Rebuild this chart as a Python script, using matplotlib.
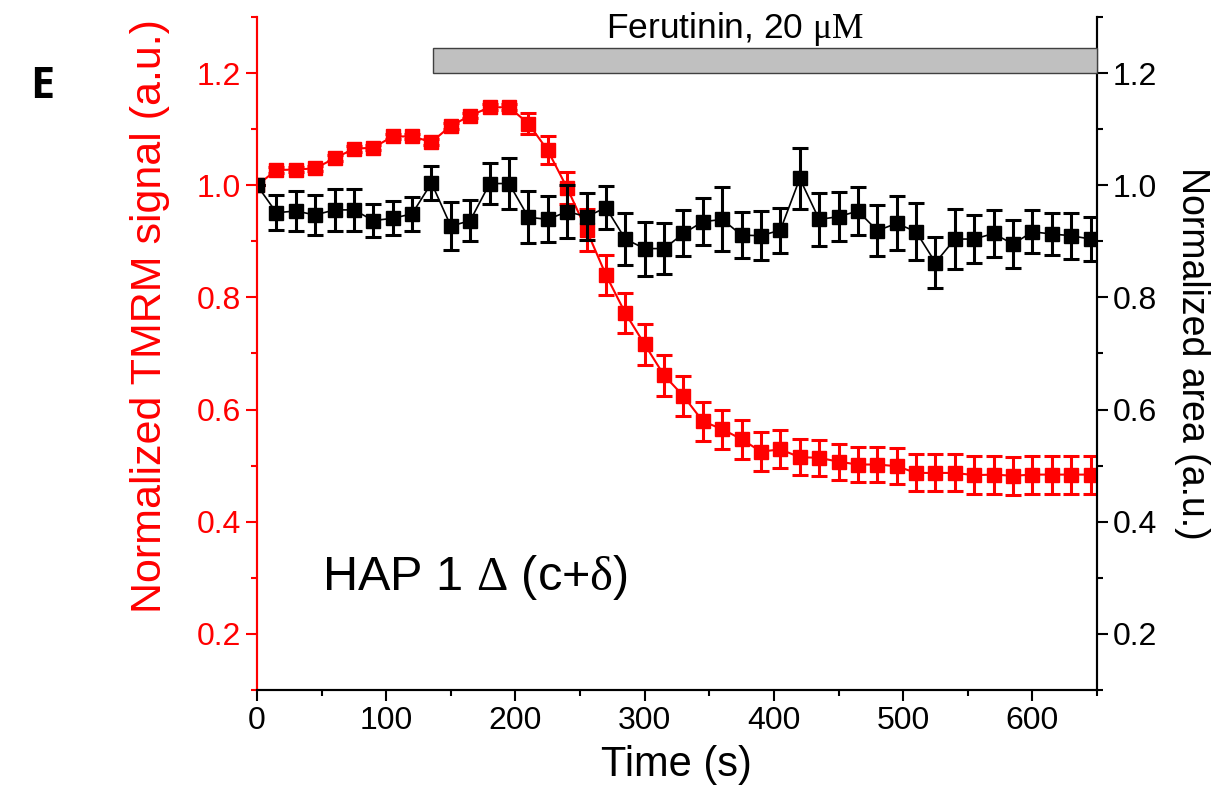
import matplotlib
matplotlib.use("Agg")
import matplotlib.pyplot as plt
from matplotlib.ticker import MultipleLocator

plt.rcParams['font.family'] = ['Liberation Sans', 'DejaVu Sans']
plt.rcParams['mathtext.fontset'] = 'custom'
plt.rcParams['mathtext.rm'] = 'Liberation Serif'
plt.rcParams['mathtext.it'] = 'Liberation Serif'

# time points (s)
time_s = [0, 15, 30, 45, 60, 75, 90, 105, 120, 135, 150, 165, 180, 195, 210,
          225, 240, 255, 270, 285, 300, 315, 330, 345, 360, 375, 390, 405, 420,
          435, 450, 465, 480, 495, 510, 525, 540, 555, 570, 585, 600, 615, 630, 645]

# normalized TMRM signal (left axis, red)
tmrm = [1.000, 1.027, 1.028, 1.030, 1.048, 1.065, 1.067, 1.087, 1.087, 1.077,
        1.106, 1.124, 1.139, 1.139, 1.110, 1.062, 0.995, 0.920, 0.840, 0.772,
        0.716, 0.661, 0.624, 0.579, 0.565, 0.547, 0.525, 0.529, 0.515, 0.514,
        0.507, 0.502, 0.502, 0.499, 0.487, 0.487, 0.487, 0.483, 0.484, 0.482,
        0.484, 0.484, 0.484, 0.484]
tmrm_err = [0.000, 0.005, 0.005, 0.005, 0.005, 0.005, 0.005, 0.005, 0.005, 0.005,
            0.005, 0.005, 0.005, 0.005, 0.019, 0.025, 0.029, 0.038, 0.035, 0.036,
            0.037, 0.036, 0.035, 0.035, 0.035, 0.035, 0.035, 0.034, 0.032, 0.032,
            0.032, 0.032, 0.032, 0.032, 0.033, 0.033, 0.033, 0.034, 0.034, 0.034,
            0.034, 0.034, 0.034, 0.034]

# normalized area (right axis, black)
area = [1.000, 0.951, 0.954, 0.947, 0.956, 0.956, 0.937, 0.941, 0.949, 1.004,
        0.927, 0.937, 1.003, 1.003, 0.943, 0.939, 0.953, 0.944, 0.960, 0.904,
        0.887, 0.887, 0.914, 0.935, 0.939, 0.911, 0.910, 0.920, 1.012, 0.939,
        0.944, 0.954, 0.919, 0.932, 0.917, 0.862, 0.904, 0.904, 0.914, 0.895,
        0.917, 0.913, 0.910, 0.904]
area_err = [0.000, 0.031, 0.036, 0.035, 0.037, 0.037, 0.030, 0.030, 0.030, 0.031,
            0.043, 0.037, 0.037, 0.046, 0.046, 0.041, 0.047, 0.042, 0.038, 0.046,
            0.048, 0.045, 0.041, 0.042, 0.057, 0.041, 0.044, 0.040, 0.055, 0.047,
            0.044, 0.043, 0.046, 0.048, 0.051, 0.046, 0.053, 0.043, 0.042, 0.043,
            0.038, 0.037, 0.041, 0.040]

drug_start, drug_end = 136, 650

fig = plt.figure(figsize=(12.17, 7.97), dpi=100)
ax = fig.add_axes([0.2112, 0.1343, 0.6902, 0.8444])
ax2 = ax.twinx()

red = '#ff0000'
ax.errorbar(time_s, tmrm, yerr=tmrm_err, color=red, marker='s', ms=9.8,
            lw=1.5, elinewidth=2.2, capsize=5.5, capthick=2.2)
ax2.errorbar(time_s, area, yerr=area_err, color='black', marker='s', ms=9.8,
             lw=1.2, elinewidth=2.2, capsize=5.8, capthick=2.2)

for a in (ax, ax2):
    a.set_xlim(0, 650)
    a.set_ylim(0.1, 1.3)
    a.yaxis.set_major_locator(MultipleLocator(0.2))
    a.yaxis.set_minor_locator(MultipleLocator(0.1))
    a.spines['top'].set_visible(False)
    for s in a.spines.values():
        s.set_linewidth(1.5)

ax.xaxis.set_major_locator(MultipleLocator(100))
ax.xaxis.set_minor_locator(MultipleLocator(50))
ax.tick_params(axis='x', which='major', length=8, width=1.5, labelsize=23)
ax.tick_params(axis='x', which='minor', length=4.5, width=1.5)
ax.tick_params(axis='y', which='both', colors=red, labelcolor=red, width=1.5)
ax.tick_params(axis='y', which='major', length=8, labelsize=23)
ax.tick_params(axis='y', which='minor', length=4.5)
ax.spines['left'].set_color(red)
ax2.spines['left'].set_color(red)
ax2.tick_params(axis='y', which='major', length=8, width=1.5, labelsize=23)
ax2.tick_params(axis='y', which='minor', length=4.5, width=1.5)

ax.set_xlabel('Time (s)', fontsize=30)
ax.xaxis.set_label_coords(0.499, -0.082)
ax.set_ylabel('Normalized TMRM signal (a.u.)', fontsize=31, color=red)
ax.yaxis.set_label_coords(-0.104, 0.555)
ax2.set_ylabel('Normalized area (a.u.)', fontsize=27, rotation=270, va='center')
ax2.yaxis.set_label_coords(1.113, 0.5)

# drug application bar
ax2.bar((drug_start + drug_end) / 2, 0.044, width=drug_end - drug_start, bottom=1.2,
        color='#c0c0c0', edgecolor='#404040', linewidth=1, clip_on=False, zorder=5)
ax2.text(370, 1.244, r'Ferutinin, 20 $\mu\mathrm{M}$', ha='center', va='bottom',
         fontsize=25.5)

ax.text(50, 0.3, r'HAP 1 $\Delta$ (c+$\delta$)', ha='left', va='center', fontsize=35)

fig.text(0.0345, 0.892, 'E', fontsize=31, fontweight='bold', family='Open Sans',
         ha='center', va='center')

fig.savefig('out.png', dpi=100)
